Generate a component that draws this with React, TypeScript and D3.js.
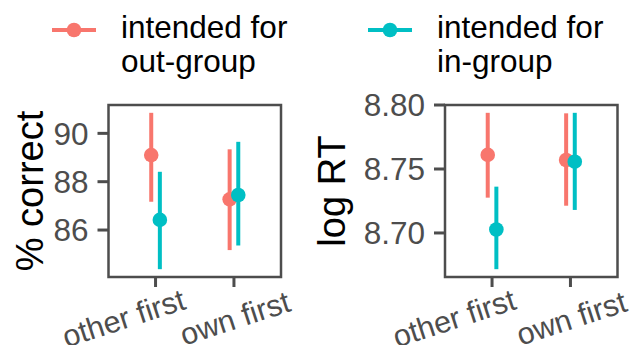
import React from "react";
import * as d3 from "d3";

// conditions on the x axis
const categories = ["other first", "own first"];
// legend groups
const groupLabels = [["intended for", "out-group"], ["intended for", "in-group"]];
const groupColors = ["#F8766D", "#00BFC4"];

// % correct, means and intervals (out-group, in-group)
const correctOutMean = [89.1, 87.27];
const correctOutLow = [87.17, 85.17];
const correctOutHigh = [90.85, 89.34];
const correctInMean = [86.42, 87.45];
const correctInLow = [84.38, 85.36];
const correctInHigh = [88.41, 89.65];
const correctTicks = [86, 88, 90];

// log RT, means and intervals
const rtOutMean = [8.761, 8.757];
const rtOutLow = [8.7276, 8.7213];
const rtOutHigh = [8.7939, 8.7935];
const rtInMean = [8.7027, 8.7557];
const rtInLow = [8.6717, 8.718];
const rtInHigh = [8.7362, 8.7939];
const rtTicks = [8.7, 8.75, 8.8];

const W = 634;
const H = 345;
const axisGrey = "#4d4d4d";
const font = "'Liberation Sans', Arial, Helvetica, sans-serif";

function Panel({ left, right, top, bottom, series, ticks, fmt, title, titleX, labelShift }) {
  const all = series.flatMap(s => [...s.low, ...s.high]);
  const [mn, mx] = d3.extent(all);
  const pad = (mx - mn) * 0.05;
  const y = d3.scaleLinear().domain([mn - pad, mx + pad]).range([bottom, top]);
  const x = d3.scalePoint().domain(categories).range([left, right]).padding(0.6);
  const dodge = x.step() * 0.055;
  return (
    <g>
      <rect x={left} y={top} width={right - left} height={bottom - top}
        fill="none" stroke={axisGrey} strokeWidth={2.5} />
      {ticks.map(t => (
        <g key={t}>
          <line x1={left - 11} x2={left} y1={y(t)} y2={y(t)} stroke={axisGrey} strokeWidth={3} />
          <text x={left - 20} y={y(t)} dy="0.36em" textAnchor="end" fontSize={31.5}
            fill={axisGrey} fontFamily={font}>{fmt(t)}</text>
        </g>
      ))}
      {categories.map((c, i) => (
        <g key={c}>
          <line x1={x(c)} x2={x(c)} y1={bottom} y2={bottom + 10} stroke={axisGrey} strokeWidth={3} />
          <text transform={`translate(${x(c) + labelShift[i]},${bottom + 41}) rotate(-18)`}
            dy="0.35em" textAnchor="middle" fontSize={30.5} fill={axisGrey} fontFamily={font}>{c}</text>
        </g>
      ))}
      {series.map((s, si) => (
        <g key={si}>
          {categories.map((c, i) => {
            const cx = x(c) + (si === 0 ? -dodge : dodge);
            return (
              <g key={c}>
                <line x1={cx} x2={cx} y1={y(s.low[i])} y2={y(s.high[i])}
                  stroke={groupColors[si]} strokeWidth={4} />
                <circle cx={cx} cy={y(s.mean[i])} r={7.3} fill={groupColors[si]} />
              </g>
            );
          })}
        </g>
      ))}
      <text transform={`translate(${titleX},${(top + bottom) / 2}) rotate(-90)`}
        textAnchor="middle" fontSize={38} fill="#000" fontFamily={font}>{title}</text>
    </g>
  );
}

export default function App() {
  const correctSeries = [
    { mean: correctOutMean, low: correctOutLow, high: correctOutHigh },
    { mean: correctInMean, low: correctInLow, high: correctInHigh },
  ];
  const rtSeries = [
    { mean: rtOutMean, low: rtOutLow, high: rtOutHigh },
    { mean: rtInMean, low: rtInLow, high: rtInHigh },
  ];
  const legendX = [52, 368];
  return (
    <>
      <style>{"body{margin:0}"}</style>
      <svg width={W} height={H} style={{ display: "block", background: "#fff" }}>
        {groupLabels.map((lab, i) => (
          <g key={i} transform={`translate(${legendX[i]},0)`}>
            <line x1={0} x2={44} y1={30} y2={30} stroke={groupColors[i]} strokeWidth={4} />
            <circle cx={22} cy={30} r={7.3} fill={groupColors[i]} />
            <text fontSize={31.5} fill="#000" fontFamily={font}>
              <tspan x={69} y={37.5}>{lab[0]}</tspan>
              <tspan x={69} y={71.5}>{lab[1]}</tspan>
            </text>
          </g>
        ))}
        <Panel left={108.5} right={281} top={105} bottom={277} series={correctSeries}
          ticks={correctTicks} fmt={d3.format("d")} title="% correct" titleX={43} labelShift={[-32, 1]} />
        <Panel left={445} right={617.5} top={105} bottom={277} series={rtSeries}
          ticks={rtTicks} fmt={d3.format(".2f")} title="log RT" titleX={345} labelShift={[-38, 1]} />
      </svg>
    </>
  );
}
